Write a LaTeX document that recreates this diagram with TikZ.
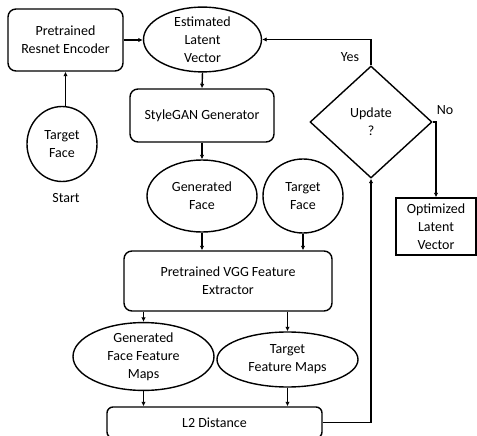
\documentclass[tikz,border=0pt]{standalone}
\usepackage{fontspec}
\setmainfont{Carlito}
\usetikzlibrary{shapes.geometric,arrows.meta}
\begin{document}
\begin{tikzpicture}[x=1pt,y=-1pt,
  every node/.style={font=\fontsize{14}{18}\selectfont, align=center, inner sep=0pt},
  rbox/.style={draw, line width=1.4pt, rounded corners=8pt},
  sbox/.style={draw, line width=1.4pt},
  ell/.style={draw, ellipse, line width=1.4pt},
  dia/.style={draw, diamond, line width=1.4pt},
  arr/.style={line width=1.4pt, -{Latex[length=4.5pt,width=4.5pt]}}]
\useasboundingbox (0,0) rectangle (477,436);
\node[rbox, minimum width=115pt, minimum height=62pt] (res) at (65.5,40) {Pretrained\\Resnet Encoder};
\node[ell, minimum width=118pt, minimum height=64pt] (est) at (202.5,39.5) {Estimated\\Latent\\Vector};
\node[ell, minimum width=70pt, minimum height=75pt] (tf1) at (62,144) {Target\\Face};
\node (start) at (66,198) {Start};
\node[rbox, minimum width=144pt, minimum height=53pt] (sg) at (202,115.5) {StyleGAN Generator};
\node[ell, minimum width=110pt, minimum height=72pt] (gf) at (202,196) {Generated\\Face};
\node[ell, minimum width=80pt, minimum height=74pt] (tf2) at (303,196) {Target\\Face};
\node[rbox, minimum width=208pt, minimum height=60pt] (vgg) at (228,281) {Pretrained VGG Feature\\Extractor};
\node[ell, minimum width=141pt, minimum height=57pt] (gffm) at (143.5,356.5) {Generated\\Face Feature\\Maps};
\node[ell, minimum width=141pt, minimum height=55pt] (tfm) at (287.5,359.5) {Target\\Feature Maps};
\node[rbox, rounded corners=6pt, minimum width=215pt, minimum height=31pt] (l2) at (214.5,422.5) {L2 Distance};
\node[dia, minimum width=122pt, minimum height=112pt] (up) at (371,122) {Update\\?};
\node[sbox, minimum width=80pt, minimum height=57pt] (opt) at (436,226.5) {Optimized\\Latent\\Vector};
\node (yes) at (350,57) {Yes};
\node (no) at (445,110) {No};
\draw[arr] (res.east) -- (res.east -| est.west);
\draw[arr] (res.south |- tf1.north) -- (res.south);
\draw[arr] (est.south) -- (sg.north);
\draw[arr] (sg.south) -- (gf.north);
\draw[arr] (gf.south) -- (gf.south |- vgg.north);
\draw[arr] (tf2.south) -- (tf2.south |- vgg.north);
\draw[arr] (vgg.south -| gffm.north) -- (gffm.north);
\draw[arr] (vgg.south -| tfm.north) -- (tfm.north);
\draw[arr] (gffm.south) -- (gffm.south |- l2.north);
\draw[arr] (tfm.south) -- (tfm.south |- l2.north);
\draw[arr] (l2.east) -| (up.south);
\draw[arr] (up.north) |- (est.east);
\draw[arr] (up.east) -| (opt.north);
\end{tikzpicture}
\end{document}
